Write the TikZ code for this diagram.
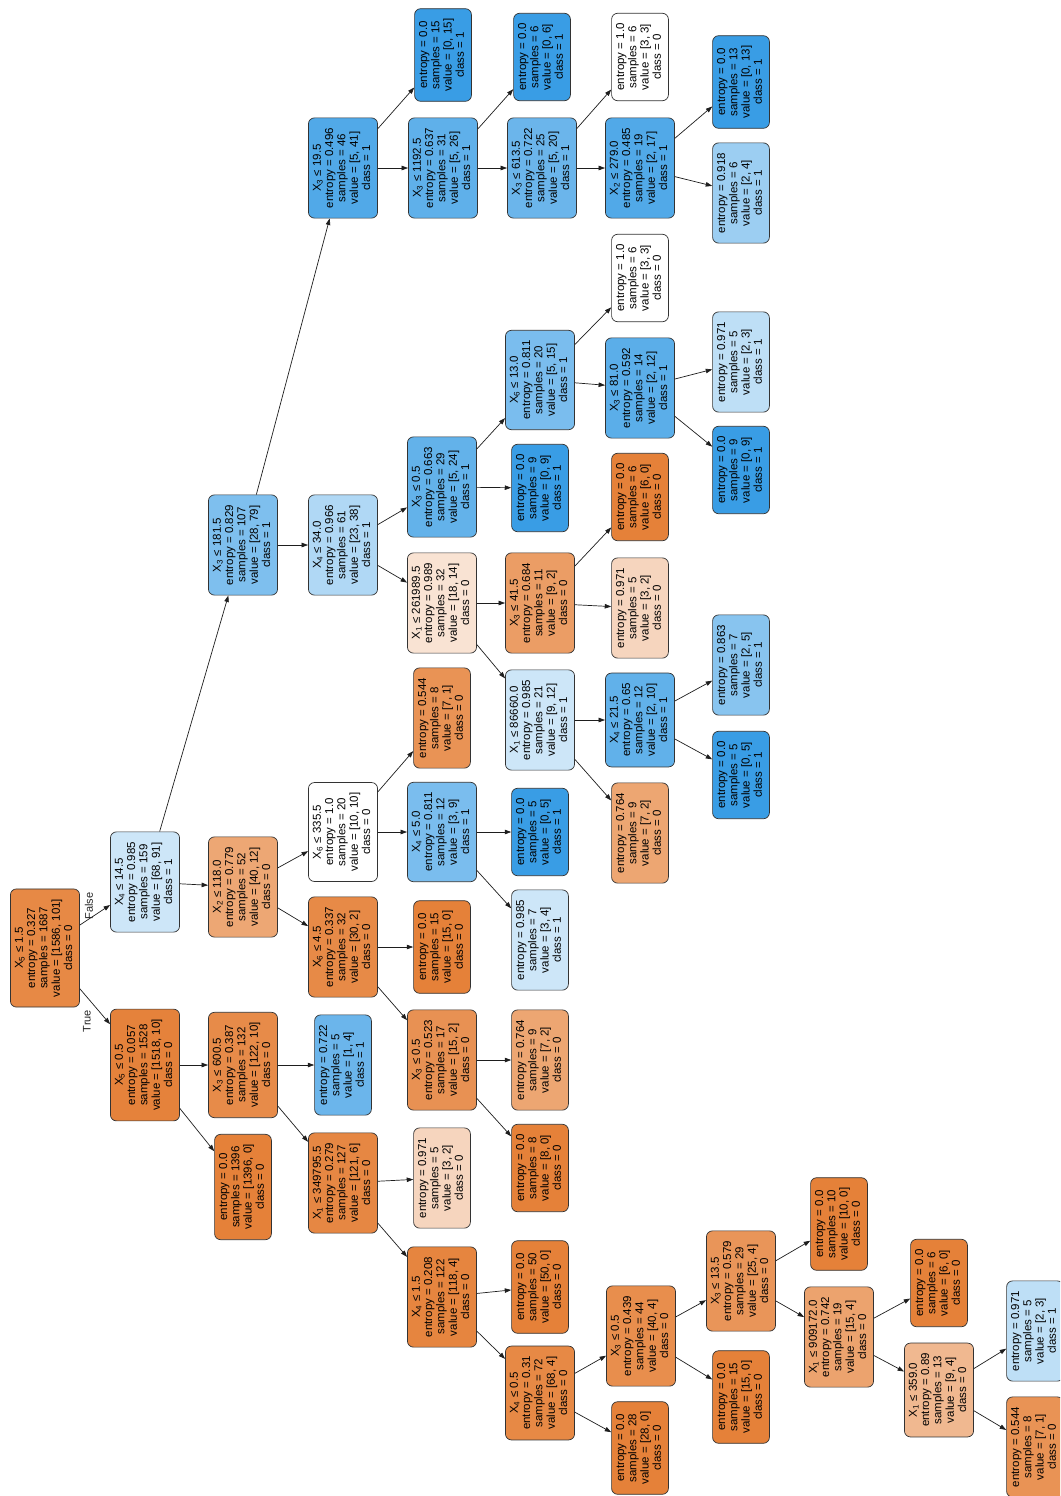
\documentclass[tikz,border=0pt]{standalone}
\usepackage{fontspec}
\setmainfont{Liberation Sans}
\usepackage{graphicx}
\usetikzlibrary{arrows.meta}

\definecolor{czero}{RGB}{229,129,57}
\definecolor{cone}{RGB}{57,157,229}
\definecolor{edgegray}{RGB}{30,30,30}

% rotated multi-line label of a tree node
\newcommand\rl[1]{\rotatebox{90}{\begin{tabular}{@{}c@{}}#1\end{tabular}}}
\newcommand\Xs[1]{X\textsubscript{#1}}

\tikzset{
  tbox/.style={draw=black!80, line width=0.7pt, rounded corners=6pt,
    inner xsep=3.8pt, inner ysep=10pt, text=black,
    font=\fontsize{11.5}{12.3}\selectfont},
  edge/.style={draw=edgegray, line width=0.7pt,
    -{Triangle[length=6.5pt,width=4.5pt]}},
  elabel/.style={rotate=90, font=\fontsize{11}{12}\selectfont, text=black!85}
}

\begin{document}
\begin{tikzpicture}[x=1pt,y=-1pt]
\useasboundingbox (0,0) rectangle (1060,1496);
\fill[white] (0,0) rectangle (1060,1496);
\clip (0,0) rectangle (1060,1496);

% level 0
\node[tbox, fill=czero!94!white] (nA) at (45,948) {\rl{\Xs{5} ≤ 1.5\\entropy = 0.327\\samples = 1687\\value = [1586, 101]\\class = 0}};
% level 1
\node[tbox, fill=cone!25!white] (nB) at (145,882) {\rl{\Xs{4} ≤ 14.5\\entropy = 0.985\\samples = 159\\value = [68, 91]\\class = 1}};
\node[tbox, fill=czero!99!white] (nC) at (145,1065) {\rl{\Xs{5} ≤ 0.5\\entropy = 0.057\\samples = 1528\\value = [1518, 10]\\class = 0}};
% level 2
\node[tbox, fill=czero!70!white] (nD) at (243,887) {\rl{\Xs{2} ≤ 118.0\\entropy = 0.779\\samples = 52\\value = [40, 12]\\class = 0}};
\node[tbox, fill=cone!65!white] (nE) at (243,545) {\rl{\Xs{3} ≤ 181.5\\entropy = 0.829\\samples = 107\\value = [28, 79]\\class = 1}};
\node[tbox, fill=czero!92!white] (nF) at (243,1065) {\rl{\Xs{3} ≤ 600.5\\entropy = 0.387\\samples = 132\\value = [122, 10]\\class = 0}};
\node[tbox, fill=czero] (nG) at (243,1187) {\rl{entropy = 0.0\\samples = 1396\\value = [1396, 0]\\class = 0}};
% level 3
\node[tbox, fill=white] (nH) at (343,832) {\rl{\Xs{6} ≤ 335.5\\entropy = 1.0\\samples = 20\\value = [10, 10]\\class = 0}};
\node[tbox, fill=czero!93!white] (nI) at (343,947) {\rl{\Xs{6} ≤ 4.5\\entropy = 0.337\\samples = 32\\value = [30, 2]\\class = 0}};
\node[tbox, fill=cone!75!white] (nJ) at (343,1065) {\rl{entropy = 0.722\\samples = 5\\value = [1, 4]\\class = 1}};
\node[tbox, fill=czero!95!white] (nK) at (343,1183) {\rl{\Xs{1} ≤ 349795.5\\entropy = 0.279\\samples = 127\\value = [121, 6]\\class = 0}};
\node[tbox, fill=cone!40!white] (nL) at (343,545) {\rl{\Xs{4} ≤ 34.0\\entropy = 0.966\\samples = 61\\value = [23, 38]\\class = 1}};
\node[tbox, fill=cone!88!white] (nM) at (343,168) {\rl{\Xs{3} ≤ 19.5\\entropy = 0.496\\samples = 46\\value = [5, 41]\\class = 1}};
% level 4
\node[tbox, fill=czero!86!white] (nN) at (442,718) {\rl{entropy = 0.544\\samples = 8\\value = [7, 1]\\class = 0}};
\node[tbox, fill=cone!67!white] (nO) at (442,832) {\rl{\Xs{4} ≤ 5.0\\entropy = 0.811\\samples = 12\\value = [3, 9]\\class = 1}};
\node[tbox, fill=czero] (nP) at (442,947) {\rl{entropy = 0.0\\samples = 15\\value = [15, 0]\\class = 0}};
\node[tbox, fill=czero!87!white] (nQ) at (442,1060) {\rl{\Xs{3} ≤ 0.5\\entropy = 0.523\\samples = 17\\value = [15, 2]\\class = 0}};
\node[tbox, fill=czero!33!white] (nR) at (442,1178) {\rl{entropy = 0.971\\samples = 5\\value = [3, 2]\\class = 0}};
\node[tbox, fill=czero!97!white] (nS) at (442,1297) {\rl{\Xs{4} ≤ 1.5\\entropy = 0.208\\samples = 122\\value = [118, 4]\\class = 0}};
\node[tbox, fill=czero!22!white] (nT) at (442,603) {\rl{\Xs{1} ≤ 261989.5\\entropy = 0.989\\samples = 32\\value = [18, 14]\\class = 0}};
\node[tbox, fill=cone!79!white] (nU) at (442,487) {\rl{\Xs{3} ≤ 0.5\\entropy = 0.663\\samples = 29\\value = [5, 24]\\class = 1}};
\node[tbox, fill=cone] (nV) at (443,55) {\rl{entropy = 0.0\\samples = 15\\value = [0, 15]\\class = 1}};
\node[tbox, fill=cone!81!white] (nW) at (443,168) {\rl{\Xs{3} ≤ 1192.5\\entropy = 0.637\\samples = 31\\value = [5, 26]\\class = 1}};
% level 5
\node[tbox, fill=cone] (nX) at (540,832) {\rl{entropy = 0.0\\samples = 5\\value = [0, 5]\\class = 1}};
\node[tbox, fill=cone!25!white] (nY) at (540,940) {\rl{entropy = 0.985\\samples = 7\\value = [3, 4]\\class = 1}};
\node[tbox, fill=czero!71!white] (nZ) at (540,1060) {\rl{entropy = 0.764\\samples = 9\\value = [7, 2]\\class = 0}};
\node[tbox, fill=czero] (nAA) at (540,1168) {\rl{entropy = 0.0\\samples = 8\\value = [8, 0]\\class = 0}};
\node[tbox, fill=czero] (nAB) at (540,1287) {\rl{entropy = 0.0\\samples = 50\\value = [50, 0]\\class = 0}};
\node[tbox, fill=czero!94!white] (nAC) at (540,1393) {\rl{\Xs{4} ≤ 0.5\\entropy = 0.31\\samples = 72\\value = [68, 4]\\class = 0}};
\node[tbox, fill=czero!78!white] (nAD) at (540,603) {\rl{\Xs{3} ≤ 41.5\\entropy = 0.684\\samples = 11\\value = [9, 2]\\class = 0}};
\node[tbox, fill=cone!25!white] (nAE) at (540,720) {\rl{\Xs{1} ≤ 86660.0\\entropy = 0.985\\samples = 21\\value = [9, 12]\\class = 1}};
\node[tbox, fill=cone!67!white] (nAF) at (540,380) {\rl{\Xs{6} ≤ 13.0\\entropy = 0.811\\samples = 20\\value = [5, 15]\\class = 1}};
\node[tbox, fill=cone] (nAG) at (540,488) {\rl{entropy = 0.0\\samples = 9\\value = [0, 9]\\class = 1}};
\node[tbox, fill=cone] (nAH) at (542,57) {\rl{entropy = 0.0\\samples = 6\\value = [0, 6]\\class = 1}};
\node[tbox, fill=cone!75!white] (nAI) at (542,168) {\rl{\Xs{3} ≤ 613.5\\entropy = 0.722\\samples = 25\\value = [5, 20]\\class = 1}};
% level 6
\node[tbox, fill=czero] (nAJ) at (640,497) {\rl{entropy = 0.0\\samples = 6\\value = [6, 0]\\class = 0}};
\node[tbox, fill=czero!33!white] (nAK) at (640,608) {\rl{entropy = 0.971\\samples = 5\\value = [3, 2]\\class = 0}};
\node[tbox, fill=cone!80!white] (nAL) at (640,720) {\rl{\Xs{4} ≤ 21.5\\entropy = 0.65\\samples = 12\\value = [2, 10]\\class = 1}};
\node[tbox, fill=czero!71!white] (nAM) at (640,833) {\rl{entropy = 0.764\\samples = 9\\value = [7, 2]\\class = 0}};
\node[tbox, fill=white] (nAN) at (640,278) {\rl{entropy = 1.0\\samples = 6\\value = [3, 3]\\class = 0}};
\node[tbox, fill=cone!83!white] (nAO) at (640,388) {\rl{\Xs{3} ≤ 81.0\\entropy = 0.592\\samples = 14\\value = [2, 12]\\class = 1}};
\node[tbox, fill=white] (nAP) at (640,57) {\rl{entropy = 1.0\\samples = 6\\value = [3, 3]\\class = 0}};
\node[tbox, fill=cone!88!white] (nAQ) at (640,168) {\rl{\Xs{2} ≤ 279.0\\entropy = 0.485\\samples = 19\\value = [2, 17]\\class = 1}};
\node[tbox, fill=czero!90!white] (nAR) at (641,1336) {\rl{\Xs{3} ≤ 0.5\\entropy = 0.439\\samples = 44\\value = [40, 4]\\class = 0}};
\node[tbox, fill=czero] (nAS) at (640,1448) {\rl{entropy = 0.0\\samples = 28\\value = [28, 0]\\class = 0}};
% level 7
\node[tbox, fill=cone!60!white] (nAT) at (741,665) {\rl{entropy = 0.863\\samples = 7\\value = [2, 5]\\class = 1}};
\node[tbox, fill=cone] (nAU) at (741,775) {\rl{entropy = 0.0\\samples = 5\\value = [0, 5]\\class = 1}};
\node[tbox, fill=cone!33!white] (nAV) at (741,362) {\rl{entropy = 0.971\\samples = 5\\value = [2, 3]\\class = 1}};
\node[tbox, fill=cone] (nAW) at (741,470) {\rl{entropy = 0.0\\samples = 9\\value = [0, 9]\\class = 1}};
\node[tbox, fill=cone] (nAX) at (741,82) {\rl{entropy = 0.0\\samples = 13\\value = [0, 13]\\class = 1}};
\node[tbox, fill=cone!50!white] (nAY) at (741,193) {\rl{entropy = 0.918\\samples = 6\\value = [2, 4]\\class = 1}};
\node[tbox, fill=czero!84!white] (nAZ) at (741,1281) {\rl{\Xs{3} ≤ 13.5\\entropy = 0.579\\samples = 29\\value = [25, 4]\\class = 0}};
\node[tbox, fill=czero] (nBA) at (741,1397) {\rl{entropy = 0.0\\samples = 15\\value = [15, 0]\\class = 0}};
% level 8
\node[tbox, fill=czero] (nBB) at (839,1224) {\rl{entropy = 0.0\\samples = 10\\value = [10, 0]\\class = 0}};
\node[tbox, fill=czero!73!white] (nBC) at (839,1337) {\rl{\Xs{1} ≤ 909172.0\\entropy = 0.742\\samples = 19\\value = [15, 4]\\class = 0}};
% level 9
\node[tbox, fill=czero] (nBD) at (939,1283) {\rl{entropy = 0.0\\samples = 6\\value = [6, 0]\\class = 0}};
\node[tbox, fill=czero!56!white] (nBE) at (939,1390) {\rl{\Xs{1} ≤ 359.0\\entropy = 0.89\\samples = 13\\value = [9, 4]\\class = 0}};
% level 10
\node[tbox, fill=cone!33!white] (nBF) at (1035,1331) {\rl{entropy = 0.971\\samples = 5\\value = [2, 3]\\class = 1}};
\node[tbox, fill=czero!86!white] (nBG) at (1035,1447) {\rl{entropy = 0.544\\samples = 8\\value = [7, 1]\\class = 0}};

% branches
\foreach \p/\c in {A/B, A/C, B/D, B/E, C/F, C/G, D/H, D/I, F/J, F/K, E/L, E/M,
    H/N, H/O, I/P, I/Q, K/R, K/S, L/T, L/U, M/V, M/W, O/X, O/Y, Q/Z, Q/AA,
    S/AB, S/AC, T/AD, T/AE, U/AF, U/AG, W/AH, W/AI, AD/AJ, AD/AK, AE/AL, AE/AM,
    AF/AN, AF/AO, AI/AP, AI/AQ, AC/AR, AC/AS, AL/AT, AL/AU, AO/AV, AO/AW,
    AQ/AX, AQ/AY, AR/AZ, AR/BA, AZ/BB, AZ/BC, BC/BD, BC/BE, BE/BF, BE/BG}
  \draw[edge] (n\p) -- (n\c);

% branch labels at the root
\node[elabel] (lblFalse) at (89,906) {False};
\node[elabel] (lblTrue) at (87,1021) {True};
\end{tikzpicture}
\end{document}
